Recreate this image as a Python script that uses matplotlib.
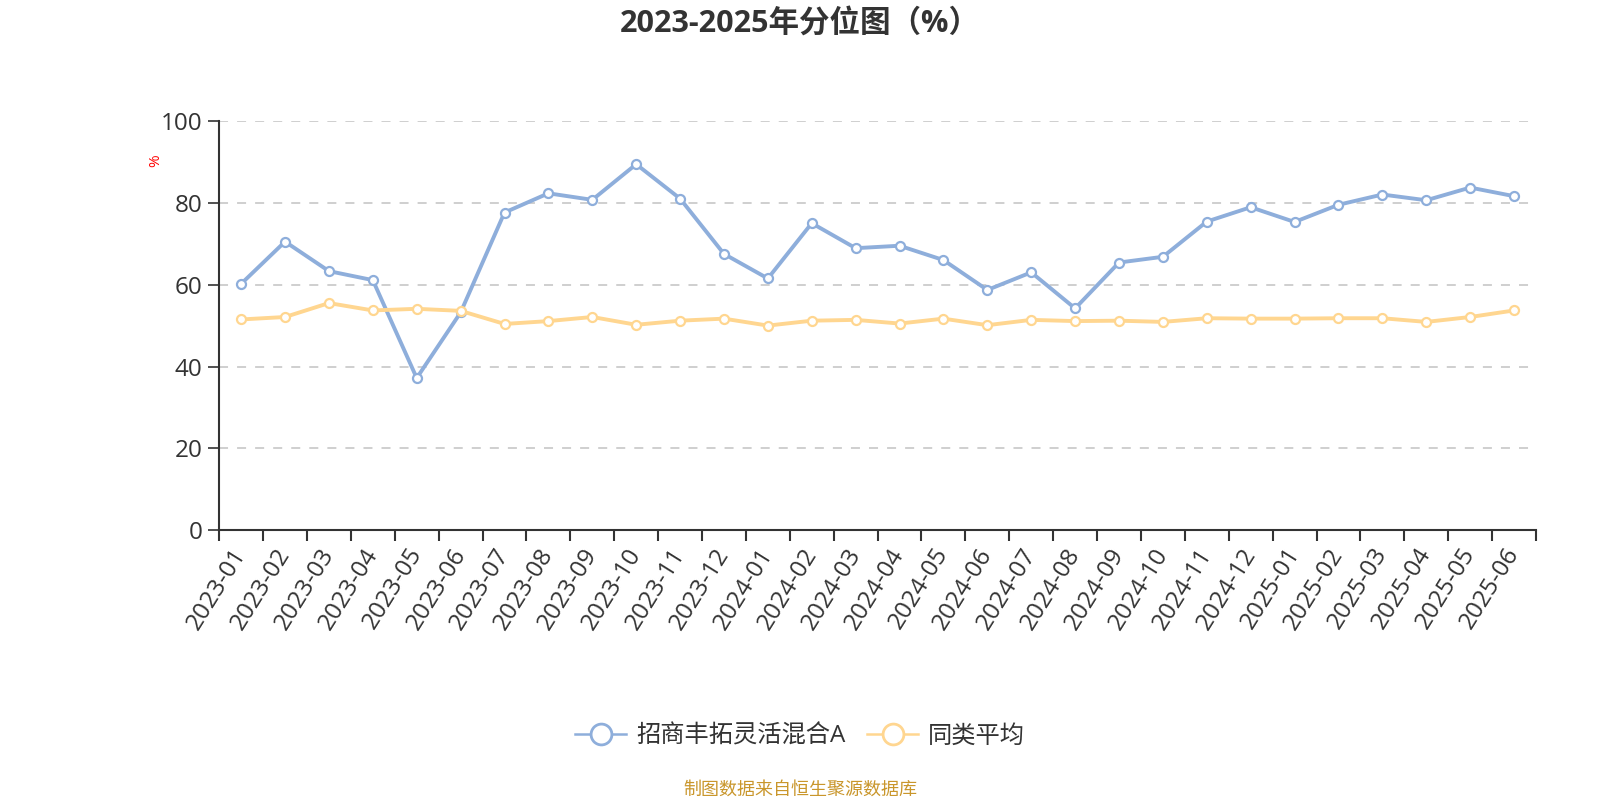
import matplotlib
matplotlib.use("Agg")
import matplotlib.pyplot as plt
from matplotlib.lines import Line2D

plt.rcParams['font.family'] = ['Open Sans', 'Noto Sans CJK SC', 'DejaVu Sans']

months = ['2023-01','2023-02','2023-03','2023-04','2023-05','2023-06','2023-07','2023-08',
          '2023-09','2023-10','2023-11','2023-12','2024-01','2024-02','2024-03','2024-04',
          '2024-05','2024-06','2024-07','2024-08','2024-09','2024-10','2024-11','2024-12',
          '2025-01','2025-02','2025-03','2025-04','2025-05','2025-06']
fund = [60.2, 70.5, 63.3, 61.1, 37.2, 53.2, 77.6, 82.3, 80.7, 89.4, 81.0, 67.5,
        61.5, 75.0, 68.9, 69.5, 66.0, 58.7, 63.0, 54.2, 65.4, 66.8, 75.4, 78.9,
        75.3, 79.5, 82.0, 80.6, 83.7, 81.6]
peer = [51.5, 52.1, 55.5, 53.7, 54.1, 53.6, 50.4, 51.1, 52.1, 50.2, 51.2, 51.7,
        50.0, 51.2, 51.4, 50.5, 51.7, 50.1, 51.4, 51.1, 51.2, 50.9, 51.8, 51.7,
        51.7, 51.8, 51.8, 50.9, 52.1, 53.7]
yticks = [0, 20, 40, 60, 80, 100]
fund_name = '招商丰拓灵活混合A'
peer_name = '同类平均'
title = '2023-2025年分位图（%）'
source = '制图数据来自恒生聚源数据库'

blue = '#8eaedb'
orange = '#ffd690'
dark = '#333333'

fig = plt.figure(figsize=(16, 8), dpi=100)
ax = fig.add_axes([0.137, 0.337, 0.823, 0.512])

x = list(range(len(months)))
ax.plot(x, fund, color=blue, lw=2.8, marker='o', ms=6.5, mfc='white', mec=blue, mew=1.6, zorder=3)
ax.plot(x, peer, color=orange, lw=2.8, marker='o', ms=6.5, mfc='white', mec=orange, mew=1.6, zorder=3)

ax.set_xlim(-0.5, len(months) - 0.5)
ax.set_ylim(0, 100)
ax.set_yticks(yticks)
ax.tick_params(axis='y', labelsize=17.5, colors=dark, length=8, width=1.2, pad=4)
for y in yticks[1:]:
    ax.axhline(y, color='#cccccc', lw=1.3, ls=(0, (5, 5)), zorder=1)

ax.set_xticks([i - 0.5 for i in range(len(months) + 1)])
ax.set_xticklabels([])
ax.set_xticks(x, minor=True)
ax.set_xticklabels(months, minor=True, rotation=58, ha='right', va='center',
                   rotation_mode='anchor', fontsize=17.5, color=dark)
ax.tick_params(axis='x', which='major', length=8, width=1.5, color=dark)
ax.tick_params(axis='x', which='minor', length=0, pad=14)

for s in ['top', 'right']:
    ax.spines[s].set_visible(False)
for s in ['left', 'bottom']:
    ax.spines[s].set_color(dark)
    ax.spines[s].set_linewidth(1.5)

fig.text(0.5, 0.971, title, ha='center', va='center', fontsize=22, fontweight='bold', color=dark)
fig.text(0.0975, 0.799, '%', ha='center', va='center', rotation=90, fontsize=11, color='red')

handles = [Line2D([0], [0], color=blue, lw=1.8, marker='o', ms=15, mfc='white', mec=blue, mew=2),
           Line2D([0], [0], color=orange, lw=1.8, marker='o', ms=15, mfc='white', mec=orange, mew=2)]
fig.legend(handles, [fund_name, peer_name], loc='center', bbox_to_anchor=(0.5, 0.079),
           ncol=2, frameon=False, fontsize=17.5, handlelength=2.1, columnspacing=0.9,
           handletextpad=0.4, labelcolor=dark)

fig.text(0.5, 0.013, source, ha='center', va='center', fontsize=13, color='#c9962b')

fig.savefig('out.png', dpi=100)
